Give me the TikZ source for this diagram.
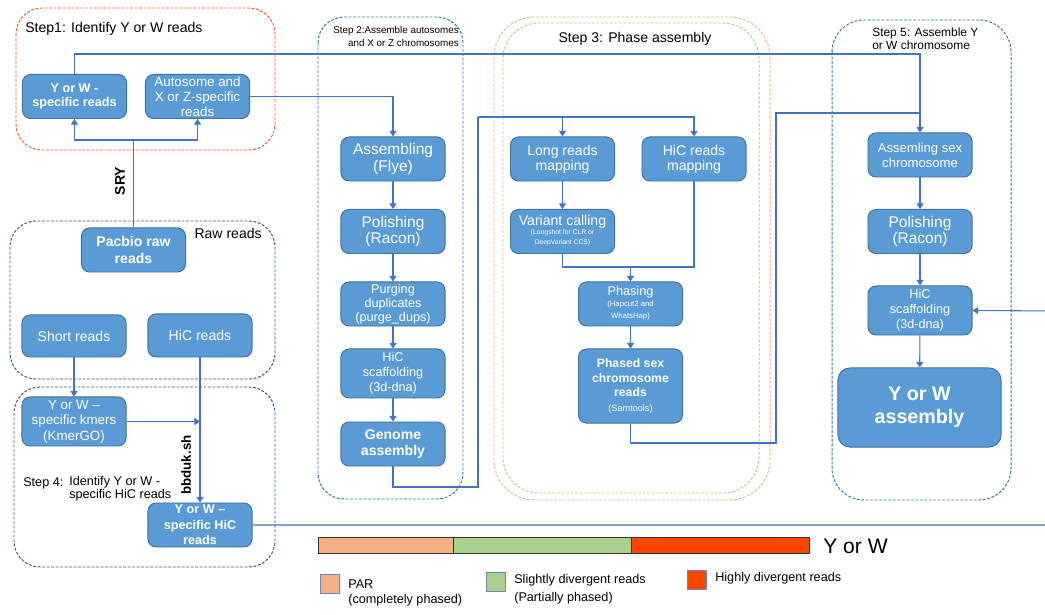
\documentclass[tikz,border=0pt]{standalone}
\usepackage{fontspec}
\setmainfont{Liberation Sans}
\usetikzlibrary{arrows.meta}
\definecolor{boxfill}{RGB}{91,155,213}
\definecolor{boxline}{RGB}{65,113,156}
\definecolor{pfeilblau}{RGB}{68,114,196}
\definecolor{stepred}{RGB}{255,90,40}
\definecolor{stepblue}{RGB}{46,117,182}
\definecolor{rawblue}{RGB}{47,85,151}
\definecolor{parorange}{RGB}{244,177,131}
\definecolor{slgreen}{RGB}{169,209,142}
\definecolor{hired}{RGB}{255,69,0}
\newcommand{\fsz}[2]{\fontsize{#1}{#2}\selectfont}

\begin{document}
\begin{tikzpicture}[x=0.025cm, y=-0.025cm,
	procbox/.style={draw=boxline, line width=0.7pt, fill=boxfill, rounded corners=0.2cm, text=white, align=center, minimum width=2.6cm, minimum height=1.1cm, inner sep=1pt},
	grpbox/.style={line width=0.7pt, dash pattern=on 2pt off 1.2pt, rounded corners=0.65cm},
	conn/.style={draw=pfeilblau, line width=0.75pt},
	arr/.style={conn, -{Triangle[width=5pt,length=4pt]}},
	steptxt/.style={inner sep=0pt, align=left, font=\fsz{10}{12}}]

	\useasboundingbox (0,0) rectangle (1045,615);
	\clip (0,0) rectangle (1045,615);

	% frames of the steps
	\draw[grpbox, draw=stepred] (16,8) rectangle (275,150);
	\draw[grpbox, draw=rawblue] (10,221) rectangle (275,379);
	\draw[grpbox, draw=rawblue] (14,387) rectangle (275,567);
	\draw[grpbox, draw=stepblue] (318,17) rectangle (463,499);
	\draw[grpbox, draw=parorange, rounded corners=1cm] (494,17) rectangle (770,500);
	\draw[grpbox, draw=slgreen, rounded corners=0.9cm] (503,23) rectangle (759,493);
	\draw[grpbox, draw=stepblue, rounded corners=0.8cm] (832,20) rectangle (1011,500);

	\node[steptxt, anchor=west] (tstepone) at (25,29) {Step1: Identify Y or W reads};
	\node[steptxt, anchor=east] (traw) at (262,233) {Raw reads};
	\node[steptxt, anchor=east, align=right, font=\fsz{7}{9.3}] (tsteptwo) at (459,36.5) {Step 2:Assemble autosomes\\and X or Z chromosomes};
	\node[steptxt] (tstepthree) at (635,39) {Step 3: Phase assembly};
	\node[steptxt, anchor=west, font=\fsz{8.5}{9.5}] (tstepfive) at (872,39) {Step 5: Assemble Y\\or W chromosome};
	\node[steptxt, anchor=west, font=\fsz{9}{9.5}] (tstepfour) at (23,483) {Step 4:};
	\node[steptxt, anchor=west, font=\fsz{9}{9.5}] (tstepfourb) at (69,489) {Identify Y or W -\\specific HiC reads};

	% step 1 and raw reads
	\node[procbox, font=\bfseries\fsz{9}{10}] (ywreads) at (74.5,96.5) {Y or W -\\specific reads};
	\node[procbox, font=\fsz{9.5}{10.7}] (autoreads) at (197.5,96.5) {Autosome and\\X or Z-specific\\reads};
	\node[procbox, font=\bfseries\fsz{10}{11.8}] (pacbio) at (133.5,250) {Pacbio raw\\reads};
	\node[procbox, font=\fsz{10}{12}, minimum height=1.05cm] (shortreads) at (74,336) {Short reads};
	\node[procbox, font=\fsz{10}{12}, minimum height=1.075cm] (hicreads) at (200,335.5) {HiC reads};

	% step 4
	\node[procbox, font=\fsz{9.5}{11}, minimum height=1.225cm] (kmers) at (74,421.5) {Y or W --\\specific kmers\\(KmerGO)};
	\node[procbox, font=\bfseries\fsz{9}{11}] (ywhic) at (200,525) {Y or W --\\specific HiC\\reads};

	% step 2
	\node[procbox, font=\fsz{11}{11.9}] (flye) at (393,159) {Assembling\\(Flye)};
	\node[procbox, font=\fsz{11}{11.9}] (raconone) at (393,231.5) {Polishing\\(Racon)};
	\node[procbox, font=\fsz{9}{10}] (purge) at (393,304) {Purging\\duplicates\\(purge\_dups)};
	\node[procbox, font=\fsz{9}{10.7}, minimum height=1.225cm] (scaffone) at (393,373.5) {HiC\\scaffolding\\(3d-dna)};
	\node[procbox, font=\bfseries\fsz{10}{11.9}] (genome) at (393,444) {Genome\\assembly};

	% step 3
	\node[procbox, font=\fsz{10}{10.7}] (longmap) at (562.5,159) {Long reads\\mapping};
	\node[procbox, font=\fsz{10}{10.7}] (hicmap) at (694,159) {HiC reads\\mapping};
	\node[procbox, font=\fsz{10}{11}] (varcall) at (562.5,231.5) {Variant calling\\[-1pt]\fsz{4.8}{7}\begin{tabular}{@{}c@{}}(Longshot for CLR or\\DeepVariant CCS)\end{tabular}};
	\node[procbox, font=\fsz{9}{10}] (phasing) at (630.5,304) {Phasing\\[-1pt]\fsz{5.5}{8.3}\begin{tabular}{@{}c@{}}(Hapcut2 and\\WhatsHap)\end{tabular}};
	\node[procbox, font=\bfseries\fsz{8.7}{10.5}, minimum height=1.85cm] (phased) at (630.5,386) {Phased sex\\chromosome\\reads\\\mdseries\fsz{6.5}{10.5}(Samtools)};

	% step 5
	\node[procbox, font=\fsz{9.3}{10.7}] (sexasm) at (920,155) {Assemling sex\\chromosome};
	\node[procbox, font=\fsz{11}{11.9}] (racontwo) at (920,231.5) {Polishing\\(Racon)};
	\node[procbox, font=\fsz{9}{10.7}, minimum height=1.225cm] (scafftwo) at (920,310.5) {HiC\\scaffolding\\(3d-dna)};
	\node[procbox, font=\bfseries\fsz{14}{16.5}, minimum width=4.075cm, minimum height=1.975cm, rounded corners=0.3cm] (ywasm) at (919.5,407.5) {Y or W\\assembly};

	% connectors
	\draw[conn] (pacbio.north) -- (133.5,140) coordinate (srysplit);
	\draw[arr] (srysplit) -| (ywreads.south);
	\draw[arr] (srysplit) -| (autoreads.south);
	\node[rotate=90, font=\bfseries\fsz{10}{12}] (srylbl) at (120,181) {SRY};

	\draw[arr] (ywreads.north) -- (74.5,54) -| (sexasm.north);
	\draw[arr] (autoreads.east) -| (flye.north);

	\draw[arr] (flye) -- (raconone);
	\draw[arr] (raconone) -- (purge);
	\draw[arr] (purge) -- (scaffone);
	\draw[arr] (scaffone) -- (genome);

	\draw[conn] (genome.south) -- (393,487) -- (478,487) -- (478,117) coordinate (phasesplit);
	\draw[arr] (phasesplit) -| (longmap.north);
	\draw[arr] (phasesplit) -| (hicmap.north);
	\draw[arr] (longmap) -- (varcall);
	\draw[conn] (varcall.south) |- (630.5,267) coordinate (phasejoin) -| (hicmap.south);
	\draw[arr] (phasejoin) -- (phasing.north);
	\draw[arr] (phasing) -- (phased);
	\draw[conn] (phased.south) -- (630.5,443) -- (776,443) -- (776,113) -- (920,113);

	\draw[arr] (sexasm) -- (racontwo);
	\draw[arr] (racontwo) -- (scafftwo);
	\draw[arr] (scafftwo) -- (ywasm);

	\draw[arr] (shortreads) -- (kmers);
	\draw[arr] (hicreads) -- (ywhic);
	\draw[arr] (kmers.east) -- (200,421.5);
	\node[rotate=90, font=\bfseries\fsz{9.5}{12}] (bbduklbl) at (186,465) {bbduk.sh};
	\draw[arr] (ywhic.east) -- (1060,525) -- (1060,311) -- (scafftwo.east);

	% legend
	\foreach \xa/\xb/\col in {318/453/parorange, 453/631/slgreen, 631/809/hired}
		\draw[black!80, line width=0.6pt, fill=\col] (\xa,537) rectangle (\xb,553);
	\node[anchor=west, inner sep=0pt, font=\fsz{15}{17}] (ywlegend) at (823,546) {Y or W};

	\draw[draw=rawblue!70, line width=0.7pt, fill=parorange] (320,574) rectangle (339,593);
	\draw[draw=rawblue!70, line width=0.7pt, fill=slgreen] (486,572) rectangle (505,591);
	\draw[draw=rawblue!70, line width=0.7pt, fill=hired] (687,570) rectangle (706,589);
	\node[steptxt, anchor=west, font=\fsz{9}{10.7}] (legpar) at (348,592.5) {PAR\\(completely phased)};
	\node[steptxt, anchor=west, font=\fsz{9}{12.8}] (legslight) at (514,589) {Slightly divergent reads\\(Partially phased)};
	\node[steptxt, anchor=west, font=\fsz{9}{10.7}] (leghigh) at (715,578) {Highly divergent reads};

\end{tikzpicture}
\end{document}
